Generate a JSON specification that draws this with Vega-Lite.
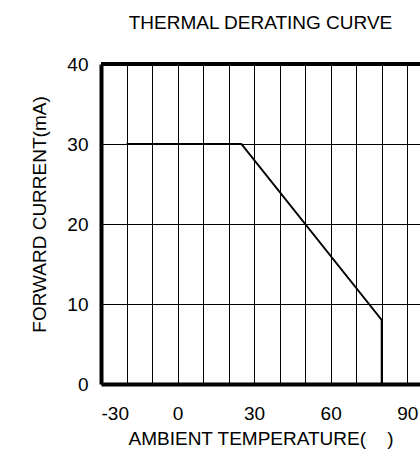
{
  "$schema": "https://vega.github.io/schema/vega-lite/v6.json",
  "width": 319,
  "height": 320,
  "autosize": "none",
  "padding": {"left": 101, "top": 64, "right": 0, "bottom": 70},
  "background": "white",
  "config": {
    "view": {"stroke": null},
    "font": "Liberation Sans"
  },
  "title": {
    "text": "THERMAL DERATING CURVE",
    "fontSize": 19,
    "fontWeight": "normal",
    "font": "Liberation Sans",
    "color": "#000",
    "anchor": "middle",
    "offset": 22
  },
  "data": {
    "values": [
      {"temp": -20, "current": 30},
      {"temp": 25, "current": 30},
      {"temp": 80, "current": 8},
      {"temp": 80, "current": 0}
    ]
  },
  "layer": [
    {
      "mark": {"type": "line", "color": "#000", "strokeWidth": 2, "clip": true},
      "encoding": {
        "x": {
          "field": "temp",
          "type": "quantitative",
          "scale": {"domain": [-30, 95], "nice": false, "zero": false},
          "axis": {
            "values": [-30, -20, -10, 0, 10, 20, 30, 40, 50, 60, 70, 80, 90],
            "labelExpr": "datum.value % 30 === 0 ? ('' + datum.value) : ''",
            "title": "AMBIENT TEMPERATURE(\u00a0\u00a0\u00a0\u00a0)",
            "titleFontSize": 19,
            "titleFontWeight": "normal",
            "titleColor": "#000",
            "titlePadding": 6,
            "labelFontSize": 19,
            "labelColor": "#000",
            "labelPadding": 20,
            "ticks": false,
            "domainColor": "#000",
            "domainWidth": 4,
            "grid": true,
            "gridColor": "#000",
            "gridOpacity": 1,
            "gridWidth": 1
          }
        },
        "y": {
          "field": "current",
          "type": "quantitative",
          "scale": {"domain": [0, 40], "nice": false},
          "axis": {
            "values": [0, 10, 20, 30, 40],
            "title": "FORWARD CURRENT(mA)",
            "titleFontSize": 19,
            "titleFontWeight": "normal",
            "titleColor": "#000",
            "titleX": -52,
            "titleY": 150,
            "titleBaseline": "bottom",
            "labelFontSize": 19,
            "labelColor": "#000",
            "labelPadding": 13,
            "ticks": false,
            "domainColor": "#000",
            "domainWidth": 4,
            "grid": true,
            "gridColor": "#000",
            "gridOpacity": 1,
            "gridWidth": 1
          }
        }
      }
    },
    {
      "mark": {"type": "rule", "color": "#000", "strokeWidth": 4},
      "encoding": {"y": {"datum": 40}}
    }
  ]
}
